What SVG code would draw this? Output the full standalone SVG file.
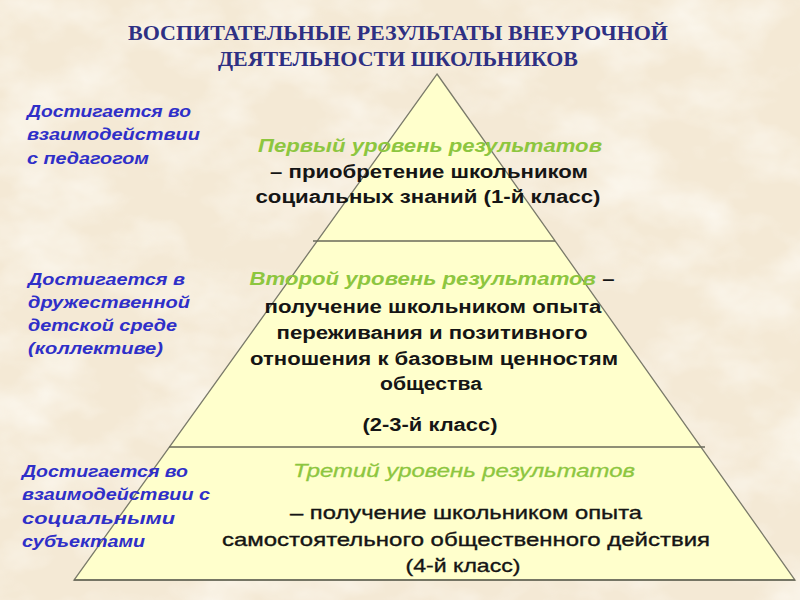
<svg xmlns="http://www.w3.org/2000/svg" width="800" height="600" viewBox="0 0 800 600">
<defs>
<filter id="paper" x="0" y="0" width="100%" height="100%">
<feTurbulence type="fractalNoise" baseFrequency="0.012 0.018" numOctaves="4" seed="7" result="n"/>
<feColorMatrix in="n" type="matrix" values="0 0 0 0 0.99  0 0 0 0 0.97  0 0 0 0 0.92  1.6 0 0 0 -0.65" result="w"/>
<feComposite in="w" in2="SourceGraphic" operator="in"/>
</filter>
<style>
.title{font-family:"Liberation Serif","Times New Roman",serif;font-weight:bold;font-size:20px;fill:#2E3083;text-anchor:middle}
.side{font-family:"Liberation Sans",Arial,sans-serif;font-weight:bold;font-style:italic;font-size:17px;fill:#2F2FC8}
.green{font-family:"Liberation Sans",Arial,sans-serif;font-weight:bold;font-style:italic;font-size:18px;fill:#8DC63F;text-anchor:middle}
.green3{font-family:"Liberation Sans",Arial,sans-serif;font-style:italic;font-size:19px;fill:#8DC63F;text-anchor:middle;stroke:#8DC63F;stroke-width:0.3}
.body{font-family:"Liberation Sans",Arial,sans-serif;font-weight:bold;font-size:18px;fill:#151515;text-anchor:middle}
.body3{font-family:"Liberation Sans",Arial,sans-serif;font-size:19px;fill:#151515;text-anchor:middle;stroke:#151515;stroke-width:0.35}
.edge{fill:#FFFFCC;stroke:#7A7A6A;stroke-width:1.3}
.div{stroke:#6A6A5A;stroke-width:1.4;fill:none}
</style>
</defs>
<rect width="800" height="600" fill="#F4E9D5"/>
<rect width="800" height="600" fill="#F4E9D5" filter="url(#paper)"/>

<g id="title">
<text class="title" x="398" y="40" textLength="540" lengthAdjust="spacingAndGlyphs">ВОСПИТАТЕЛЬНЫЕ РЕЗУЛЬТАТЫ ВНЕУРОЧНОЙ</text>
<text class="title" x="398" y="66" textLength="360" lengthAdjust="spacingAndGlyphs">ДЕЯТЕЛЬНОСТИ ШКОЛЬНИКОВ</text>
</g>

<g id="pyramid">
<polygon class="edge" points="437,74 795,580 74,580"/>
</g>

<g id="connectors">
<line class="div" x1="313" y1="241" x2="555" y2="241"/>
<line class="div" x1="169" y1="447" x2="705" y2="447"/>
<line class="div" x1="74" y1="580" x2="795" y2="580"/>
</g>

<g id="label-1">
<text class="side" x="27" y="117" textLength="164" lengthAdjust="spacingAndGlyphs">Достигается во</text>
<text class="side" x="27" y="140" textLength="173" lengthAdjust="spacingAndGlyphs">взаимодействии</text>
<text class="side" x="27" y="164" textLength="122" lengthAdjust="spacingAndGlyphs">с педагогом</text>
</g>

<g id="label-2">
<text class="side" x="28" y="285" textLength="157" lengthAdjust="spacingAndGlyphs">Достигается в</text>
<text class="side" x="28" y="308" textLength="162" lengthAdjust="spacingAndGlyphs">дружественной</text>
<text class="side" x="28" y="331" textLength="149" lengthAdjust="spacingAndGlyphs">детской среде</text>
<text class="side" x="28" y="354" textLength="135" lengthAdjust="spacingAndGlyphs">(коллективе)</text>
</g>

<g id="label-3">
<text class="side" x="22" y="477" textLength="166" lengthAdjust="spacingAndGlyphs">Достигается во</text>
<text class="side" x="22" y="500" textLength="188" lengthAdjust="spacingAndGlyphs">взаимодействии с</text>
<text class="side" x="22" y="524" textLength="153" lengthAdjust="spacingAndGlyphs">социальными</text>
<text class="side" x="22" y="547" textLength="123" lengthAdjust="spacingAndGlyphs">субъектами</text>
</g>

<g id="level-1">
<text class="green" x="430" y="152" textLength="344" lengthAdjust="spacingAndGlyphs">Первый уровень результатов</text>
<text class="body" x="429" y="178" textLength="318" lengthAdjust="spacingAndGlyphs">– приобретение школьником</text>
<text class="body" x="428" y="203" textLength="345" lengthAdjust="spacingAndGlyphs">социальных знаний (1-й класс)</text>
</g>

<g id="level-2">
<text x="432" y="285" text-anchor="middle" font-family="Liberation Sans, Arial, sans-serif" font-weight="bold" font-size="18" textLength="365" lengthAdjust="spacingAndGlyphs"><tspan fill="#8DC63F" font-style="italic">Второй уровень результатов</tspan><tspan fill="#151515"> –</tspan></text>
<text class="body" x="433" y="313" textLength="337" lengthAdjust="spacingAndGlyphs">получение школьником опыта</text>
<text class="body" x="432" y="339" textLength="311" lengthAdjust="spacingAndGlyphs">переживания и позитивного</text>
<text class="body" x="434" y="365" textLength="368" lengthAdjust="spacingAndGlyphs">отношения к базовым ценностям</text>
<text class="body" x="431" y="390" textLength="102" lengthAdjust="spacingAndGlyphs">общества</text>
<text class="body" x="430" y="431" textLength="135" lengthAdjust="spacingAndGlyphs">(2-3-й класс)</text>
</g>

<g id="level-3">
<text class="green3" x="464" y="477" textLength="342" lengthAdjust="spacingAndGlyphs">Третий уровень результатов</text>
<text class="body3" x="466" y="519" textLength="352" lengthAdjust="spacingAndGlyphs">– получение школьником опыта</text>
<text class="body3" x="466" y="546" textLength="488" lengthAdjust="spacingAndGlyphs">самостоятельного общественного действия</text>
<text class="body3" x="463" y="572" textLength="115" lengthAdjust="spacingAndGlyphs">(4-й класс)</text>
</g>
</svg>
